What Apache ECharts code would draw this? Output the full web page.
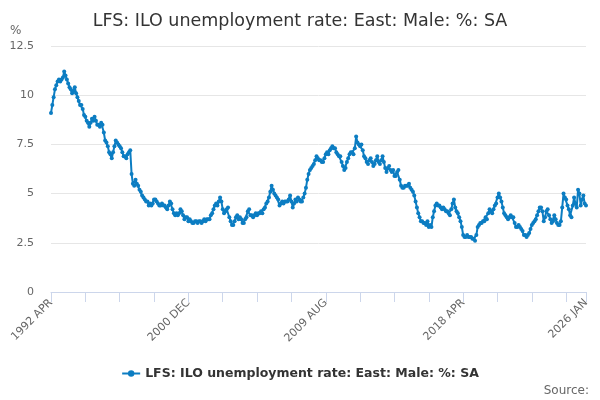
<!DOCTYPE html>
<html>
<head>
<meta charset="utf-8">
<script src="https://cdn.jsdelivr.net/npm/echarts@6/dist/echarts.min.js"></script>
<style>html,body{margin:0;padding:0;background:#fff}#c{width:600px;height:400px}</style>
</head>
<body>
<div id="c"></div>
<script>
var seriesName = 'LFS: ILO unemployment rate: East: Male: %: SA';
var startYear = 1992, startMonth = 3; // April (0-based)
var monthNames = ['JAN','FEB','MAR','APR','MAY','JUN','JUL','AUG','SEP','OCT','NOV','DEC'];
var values = [
9.1,9.5,9.9,10.3,10.5,10.7,10.8,10.7,10.8,10.9,11.2,11.0,
10.8,10.6,10.4,10.3,10.1,10.2,10.4,10.1,9.9,9.7,9.5,9.5,
9.3,9.0,8.9,8.7,8.6,8.4,8.6,8.8,8.7,8.9,8.7,8.5,
8.5,8.4,8.6,8.5,8.1,7.7,7.6,7.4,7.1,7.0,6.8,7.1,
7.4,7.7,7.6,7.5,7.4,7.3,7.1,6.9,6.9,6.8,7.0,7.1,
7.2,6.0,5.5,5.4,5.7,5.5,5.4,5.2,5.1,4.9,4.8,4.7,
4.6,4.6,4.4,4.5,4.4,4.5,4.7,4.7,4.6,4.5,4.4,4.4,
4.5,4.4,4.4,4.3,4.2,4.4,4.6,4.5,4.2,4.0,3.9,4.0,
3.9,4.0,4.2,4.1,3.9,3.7,3.8,3.8,3.6,3.7,3.6,3.5,
3.5,3.6,3.6,3.5,3.6,3.6,3.5,3.6,3.7,3.6,3.7,3.7,
3.7,3.9,4.0,4.2,4.4,4.5,4.4,4.6,4.8,4.6,4.2,4.0,
4.1,4.2,4.3,3.8,3.6,3.4,3.4,3.6,3.8,3.9,3.7,3.8,
3.7,3.5,3.5,3.7,3.8,4.1,4.2,3.9,3.9,3.8,3.9,4.0,
3.9,4.0,4.0,4.1,4.0,4.2,4.3,4.5,4.6,4.8,5.1,5.4,
5.2,5.0,4.9,4.8,4.7,4.4,4.5,4.6,4.5,4.6,4.6,4.6,
4.7,4.9,4.6,4.3,4.5,4.7,4.6,4.8,4.7,4.6,4.6,4.8,
5.0,5.3,5.7,6.0,6.2,6.3,6.4,6.5,6.7,6.9,6.8,6.7,
6.7,6.6,6.6,6.8,7.0,7.1,7.0,7.2,7.3,7.4,7.3,7.3,
7.1,7.0,6.9,6.9,6.6,6.4,6.2,6.3,6.6,6.8,7.0,7.1,
7.1,7.0,7.3,7.9,7.6,7.5,7.4,7.5,7.2,6.9,6.8,6.6,
6.5,6.7,6.8,6.6,6.4,6.5,6.7,6.9,6.6,6.5,6.7,6.9,
6.6,6.3,6.1,6.3,6.4,6.2,6.1,6.2,5.9,5.9,6.1,6.2,
5.7,5.4,5.3,5.3,5.4,5.4,5.4,5.5,5.3,5.2,5.1,4.9,
4.6,4.3,4.0,3.8,3.6,3.6,3.5,3.5,3.4,3.6,3.3,3.4,
3.3,3.8,4.1,4.4,4.5,4.4,4.4,4.3,4.2,4.3,4.2,4.1,
4.1,4.0,3.9,4.2,4.5,4.7,4.3,4.1,4.0,3.8,3.6,3.3,
2.9,2.8,2.8,2.9,2.8,2.8,2.8,2.7,2.7,2.6,2.9,3.3,
3.4,3.5,3.5,3.6,3.6,3.8,3.7,4.0,4.2,4.1,4.0,4.2,
4.4,4.5,4.8,5.0,4.8,4.6,4.3,4.0,3.9,3.8,3.7,3.8,
3.9,3.8,3.8,3.5,3.3,3.3,3.4,3.3,3.2,3.1,2.9,2.9,
2.8,2.9,3.0,3.2,3.4,3.5,3.6,3.7,3.9,4.1,4.3,4.3,
4.1,3.6,3.8,4.1,4.2,3.9,3.7,3.5,3.6,3.9,3.7,3.5,
3.4,3.4,3.6,4.3,5.0,4.8,4.7,4.4,4.2,3.9,3.8,4.4,
4.8,4.5,4.3,5.2,5.0,4.4,4.7,4.9,4.5,4.4
];
var categories = [];
for (var i = 0; i < values.length; i++) {
  var m = startMonth + i;
  categories.push((startYear + Math.floor(m / 12)) + ' ' + monthNames[m % 12]);
}
var last = values.length - 1;
var labelStep = 104, tickStep = 26;

var chart = echarts.init(document.getElementById('c'), null, {renderer: 'canvas'});
chart.setOption({
  animation: false,
  color: ['#0c7dc2'],
  textStyle: {fontFamily: 'DejaVu Sans, sans-serif'},
  title: [
    {text: seriesName, left: 'center', top: 7,
     textStyle: {fontSize: 17.5, fontWeight: 'normal', color: '#333', fontFamily: 'DejaVu Sans'}},
    {text: '%', left: 10, top: 25, padding: 0, textStyle: {fontSize: 12, fontWeight: 'normal', color: '#666'}},
    {text: 'Source:', right: 11, bottom: 3, padding: 0, textStyle: {fontSize: 12, fontWeight: 'normal', color: '#666'}}
  ],
  legend: {
    bottom: 15, left: 'center', itemWidth: 18, itemHeight: 8, itemGap: 5,
    textStyle: {fontSize: 12.5, fontWeight: 'bold', color: '#333'},
    data: [seriesName]
  },
  grid: {left: 51, right: 14, top: 46, bottom: 108, containLabel: false},
  xAxis: {
    type: 'category', data: categories, boundaryGap: false,
    axisLine: {lineStyle: {color: '#ccd6eb'}},
    axisTick: {length: 10, lineStyle: {color: '#ccd6eb'},
      interval: function (idx) { return idx % tickStep === 0 || idx === last; }},
    axisLabel: {rotate: 45, color: '#666', fontSize: 11, margin: 9,
      interval: function (idx) { return idx % labelStep === 0 || idx === last; }},
    splitLine: {show: false}
  },
  yAxis: {
    type: 'value', min: 0, max: 12.5, interval: 2.5,
    axisLine: {show: false}, axisTick: {show: false},
    axisLabel: {color: '#666', fontSize: 11, margin: 17},
    splitLine: {lineStyle: {color: '#e6e6e6'}}
  },
  series: [{
    name: seriesName, type: 'line', data: values,
    symbol: 'circle', symbolSize: 4, showAllSymbol: true,
    lineStyle: {width: 2}, itemStyle: {color: '#0c7dc2'}
  }]
});
</script>
</body>
</html>
